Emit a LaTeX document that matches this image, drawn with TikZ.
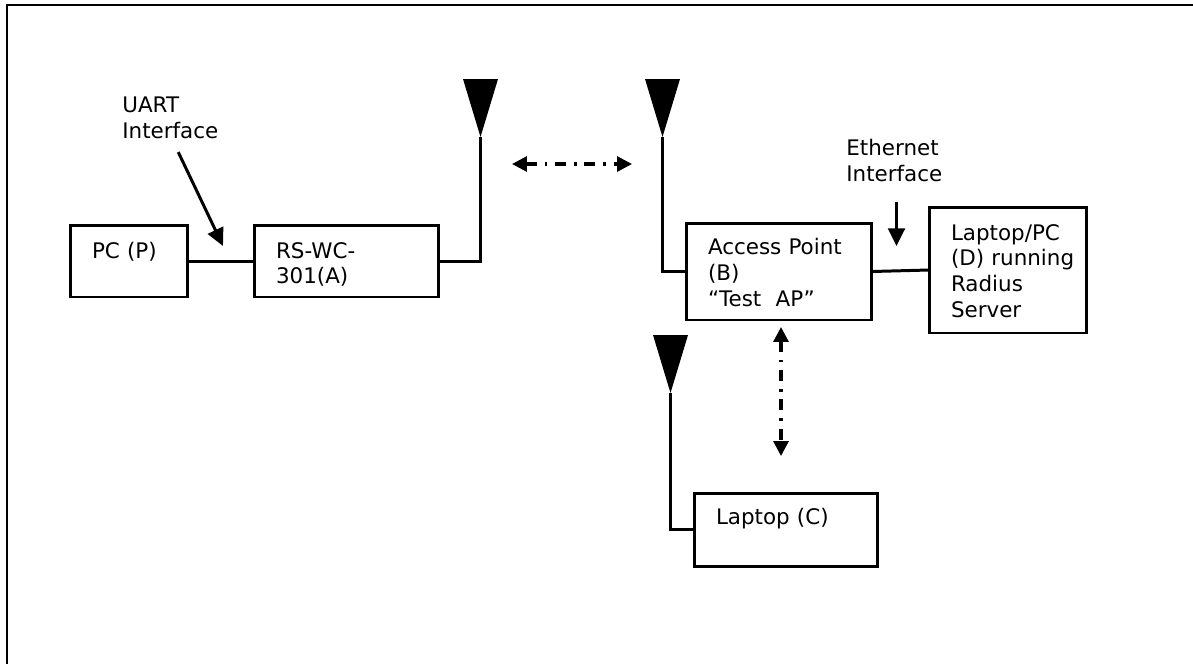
\documentclass[tikz,border=0pt]{standalone}
\usepackage{fontspec}
\setmainfont{DejaVu Sans}
\usetikzlibrary{shapes.geometric, arrows.meta}

\begin{document}
\begin{tikzpicture}[
                x=0.02cm, y=-0.02cm,
                font=\fontsize{12.2}{14.7}\selectfont,
                box/.style={rectangle, draw, line width=1.7pt, align=left, inner xsep=12.5pt, inner ysep=0pt, outer sep=0pt, text height=8pt},
                ant/.style={isosceles triangle, shape border rotate=-90, isosceles triangle stretches, fill=black, minimum width=0.7cm, minimum height=1.16cm, inner sep=0pt, outer sep=0pt},
                label/.style={align=left, inner sep=0pt, anchor=north west},
                wire/.style={line width=1.7pt},
                pointer/.style={line width=1.7pt, -{Triangle[length=10pt,width=9.5pt]}},
                radio/.style={line width=1.8pt, {Triangle[length=8.5pt,width=8.5pt]}-{Triangle[length=8.5pt,width=8.5pt]}, dash pattern=on 6.2pt off 4.5pt on 1.4pt off 4.5pt}
            ]
                \useasboundingbox (0,0) rectangle (1193,664);
                \draw[line width=1.4pt] (7,664) -- (7,5) -- (1193,5);

                \node[box, text width=1.48cm, minimum height=1.44cm, text depth=11.4pt] (pc) at (129,261) {PC (P)};
                \node[box, text width=2.82cm, minimum height=1.44cm, text depth=11.4pt] (rswc) at (346.5,261) {RS-WC-\\301(A)};
                \node[box, text width=2.84cm, minimum height=1.94cm, text depth=26.8pt] (ap) at (779,271.5) {Access Point\\(B)\\“Test~ AP”};
                \node[box, text width=2.28cm, minimum height=2.52cm, text depth=42pt] (radius) at (1008,270) {Laptop/PC\\\mbox{(D) running}\\Radius\\Server};
                \node[box, text width=2.80cm, minimum height=1.46cm, text depth=14.2pt] (laptop) at (786,529.5) {Laptop (C)};

                \node[ant, anchor=apex] (antA) at (480.5,137) {};
                \node[ant, anchor=apex] (antB) at (662.5,137) {};
                \node[ant, anchor=apex] (antC) at (670.5,393) {};

                \node[label] (uart) at (122,96.6) {UART\\Interface};
                \node[label] (eth) at (846,139) {Ethernet\\Interface};

                \coordinate (uarttip) at (223,246);
                \coordinate (ethtip) at (896.5,246);
                \coordinate (abL) at (512,164);
                \coordinate (abR) at (632,164);
                \coordinate (bcT) at (781,327);
                \coordinate (bcB) at (781,456);

                \draw[wire] (pc) -- (rswc);
                \draw[wire] (rswc.east) -| (antA.apex);
                \draw[wire] (ap.west) -| (antB.apex);
                \draw[wire] (laptop.west) -| (antC.apex);
                \draw[wire] (ap.east) -- (radius.west);

                \draw[pointer] ([xshift=4.5pt,yshift=-7.4pt]uart.south) -- (uarttip);
                \draw[pointer] (eth.south -| ethtip) ++(0,20) -- (ethtip);
                \draw[radio] (abL) -- (abR);
                \draw[radio] (bcT) -- (bcB);
            \end{tikzpicture}
\end{document}
